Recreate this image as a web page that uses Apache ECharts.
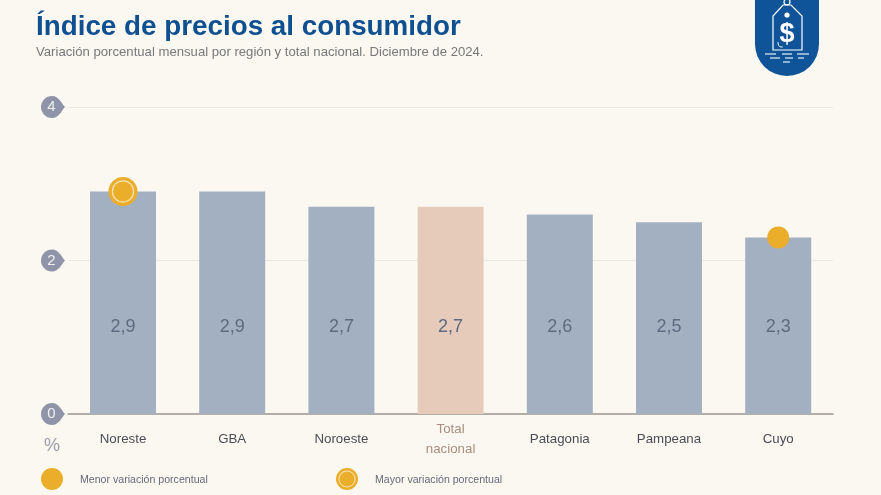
<!DOCTYPE html>
<html><head><meta charset="utf-8">
<style>html,body{margin:0;padding:0;background:#FBF8F2}#c{width:881px;height:495px}</style>
<script src="https://cdn.jsdelivr.net/npm/echarts@6/dist/echarts.min.js"></script>
</head><body><div id="c"></div>
<script>
const categories = ['Noreste','GBA','Noroeste','Total\nnacional','Patagonia','Pampeana','Cuyo'];
const values = [2.9,2.9,2.7,2.7,2.6,2.5,2.3];
const yTicks = [0,2,4];
const highlightIndex = 3;
const lowest = [[6,2.3]];
const highest = [[0,2.9]];
const GOLD='#EBAE2B', BG='#FBF8F2', FONT='"Liberation Sans",Arial,sans-serif';
const ring=(cx,cy,k)=>[
 {type:'circle',shape:{cx,cy,r:14.5*k},style:{fill:GOLD}},
 {type:'circle',shape:{cx,cy,r:11.2*k},style:{fill:'#F6E3B8'}},
 {type:'circle',shape:{cx,cy,r:10*k},style:{fill:GOLD}}
];
const wave=(x1,x2,y)=>({type:'line',shape:{x1,y1:y,x2,y2:y},style:{stroke:'#fff',lineWidth:1.1}});
const chart=echarts.init(document.getElementById('c'),null,{renderer:'canvas'});
chart.setOption({
 animation:false,
 backgroundColor:BG,
 textStyle:{fontFamily:FONT},
 title:{left:31,top:8,itemGap:5,
  text:'Índice de precios al consumidor',
  textStyle:{fontFamily:FONT,fontSize:27.8,fontWeight:'bold',color:'#0F5091'},
  subtext:'Variación porcentual mensual por región y total nacional. Diciembre de 2024.',
  subtextStyle:{fontFamily:FONT,fontSize:13.15,color:'#77787A'}},
 grid:{left:68.4,right:48.2,top:107,bottom:81},
 xAxis:{type:'category',data:categories,
  axisTick:{show:false},
  axisLine:{lineStyle:{color:'#B3AEA5',width:2}},
  axisLabel:{fontFamily:FONT,fontSize:13.3,lineHeight:20,margin:25,interval:0,verticalAlign:'middle',
   color:(v,i)=>i===highlightIndex?'#A88F80':'#4A4D55'}},
 yAxis:{type:'value',min:0,max:4,interval:2,
  axisLine:{show:false},axisTick:{show:false},
  splitLine:{lineStyle:{color:'#EDE9E0',width:1}},
  axisLabel:{fontFamily:FONT,fontSize:15,color:'#F2F1F0',align:'center',margin:17}},
 series:[
  {type:'bar',name:'Variación',barWidth:66,
   data:values.map((v,i)=>({value:v,itemStyle:{color:i===highlightIndex?'#E6CBBB':'#A3B0C2'}})),
   label:{show:true,position:'insideBottom',distance:78,fontFamily:FONT,fontSize:18,color:'#5E6A80',
    formatter:p=>p.value.toFixed(1).replace('.',',')}},
  {type:'custom',name:'Marcas de eje',z:-1,clip:false,silent:true,data:yTicks.map(v=>[0,v]),
   renderItem:(p,api)=>{
    const y=api.coord([0,api.value(1)])[1], x=52;
    return {type:'path',shape:{pathData:'M0 -11 C7 -11 10 -3 13 0 C10 3 7 11 0 11 A11 11 0 0 1 0 -11 Z',x:x-11,y:y-11,width:24,height:22,layout:'cover'},
     style:{fill:'#8F94A8'}};
   }},
  {type:'scatter',name:'Menor variación porcentual',z:4,symbol:'circle',symbolSize:22,itemStyle:{color:GOLD,opacity:1},data:lowest},
  {type:'custom',name:'Mayor variación porcentual',z:4,silent:true,data:highest,
   renderItem:(p,api)=>{
    const c=api.coord([api.value(0),api.value(1)]);
    return {type:'group',children:ring(c[0],c[1],1)};
   }}
 ],
 graphic:[
  {type:'text',left:44,top:437,style:{text:'%',fontFamily:FONT,fontSize:18,fill:'#9A9DA8'}},
  {type:'circle',shape:{cx:52,cy:479,r:11},style:{fill:GOLD}},
  {type:'text',left:80,top:475,style:{text:'Menor variación porcentual',fontFamily:FONT,fontSize:10.6,fill:'#656A78'}},
  {type:'group',children:ring(347,479,0.76)},
  {type:'text',left:375,top:475,style:{text:'Mayor variación porcentual',fontFamily:FONT,fontSize:10.6,fill:'#656A78'}},
  {type:'group',z:10,children:[
   {type:'rect',shape:{x:755,y:0,width:64,height:44},style:{fill:'#0F5398'}},
   {type:'circle',shape:{cx:787,cy:44,r:32},style:{fill:'#0F5398'}},
   {type:'polygon',shape:{points:[[783,5],[791,5],[802,16],[802,50],[773,50],[773,16]]},style:{fill:'none',stroke:'#fff',lineWidth:1.2}},
   {type:'circle',shape:{cx:787,cy:2,r:3},style:{fill:'none',stroke:'#fff',lineWidth:1.2}},
   {type:'circle',shape:{cx:787,cy:15,r:2.6},style:{fill:'#fff'}},
   {type:'text',x:787,y:35,style:{text:'$',fontFamily:FONT,fontSize:27,fontWeight:'bold',fill:'#fff',align:'center',verticalAlign:'middle'}},
   {type:'arc',shape:{cx:782,cy:43,r:4,startAngle:1.4,endAngle:3.4},style:{fill:'none',stroke:'#fff',lineWidth:1}},
   wave(765,776,54),wave(782,792,54),wave(797,809,54),wave(770,780,58),wave(785,793,58),wave(798,804,58),wave(783,790,62)
  ]}
 ]
});
</script></body></html>
